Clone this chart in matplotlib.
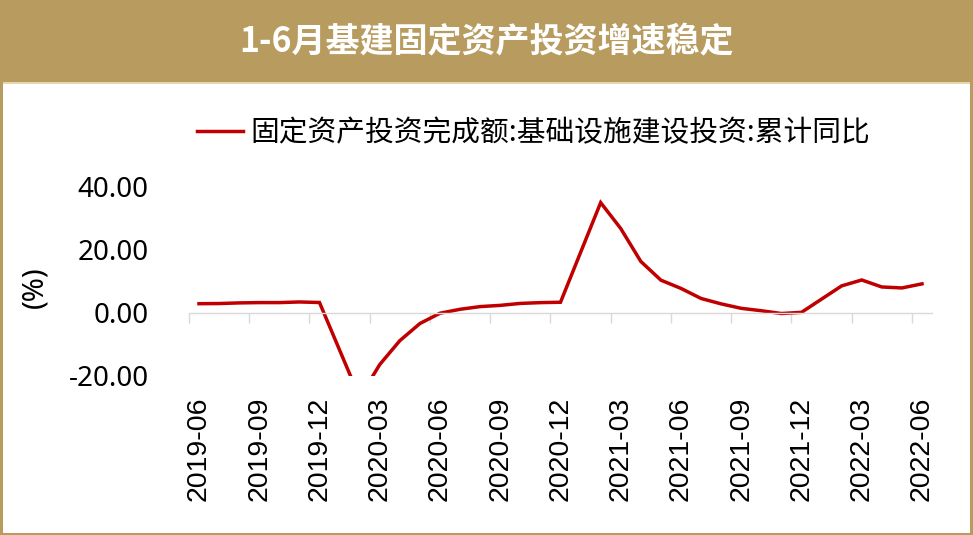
import matplotlib
matplotlib.use("Agg")
import matplotlib.pyplot as plt
from matplotlib.patches import Rectangle

plt.rcParams['font.family'] = ['Noto Sans CJK SC', 'DejaVu Sans']

# ---- data ----
months = ['2019-06', '2019-07', '2019-08', '2019-09', '2019-10', '2019-11', '2019-12',
          '2020-01', '2020-02', '2020-03', '2020-04', '2020-05', '2020-06', '2020-07',
          '2020-08', '2020-09', '2020-10', '2020-11', '2020-12',
          '2021-01', '2021-02', '2021-03', '2021-04', '2021-05', '2021-06', '2021-07',
          '2021-08', '2021-09', '2021-10', '2021-11', '2021-12',
          '2022-01', '2022-02', '2022-03', '2022-04', '2022-05', '2022-06']
values = [2.95, 3.0, 3.2, 3.3, 3.3, 3.5, 3.33,
          None, -26.86, -16.36, -8.78, -3.34, -0.07, 1.18, 2.03, 2.42, 3.04, 3.29, 3.41,
          None, 35.04, 26.81, 16.36, 10.42, 7.80, 4.61, 2.89, 1.48, 0.72, -0.17, 0.21,
          None, 8.61, 10.48, 8.26, 7.95, 9.25]
series_name = '固定资产投资完成额:基础设施建设投资:累计同比'
title = '1-6月基建固定资产投资增速稳定'
y_ticks = [-20, 0, 20, 40]
label_every = 3

TAN = '#B89B5E'
RED = '#C00000'

fig = plt.figure(figsize=(9.73, 5.35), dpi=100)
fig.patch.set_facecolor('white')

# banner
fig.patches.append(Rectangle((0, 0.8467), 1, 0.1533, transform=fig.transFigure,
                             facecolor=TAN, edgecolor='none', zorder=0))
fig.patches.append(Rectangle((0, 0.8430), 1, 0.0040, transform=fig.transFigure,
                             facecolor='#E6D7AE', edgecolor='none', zorder=0))
# border
fig.patches.append(Rectangle((0.001, 0.002), 0.997, 0.996, transform=fig.transFigure,
                             facecolor='none', edgecolor=TAN, linewidth=2.2, zorder=5))

fig.text(0.5, 0.921, title, color='white', fontsize=24.5, fontweight='bold',
         ha='center', va='center')

ax = fig.add_axes([0.1942, 0.2972, 0.9579 - 0.1942, 0.6505 - 0.2972])
ax.set_facecolor('none')

xs = [i for i, v in enumerate(values) if v is not None]
ys = [v for v in values if v is not None]
ax.plot(xs, ys, color=RED, linewidth=2.5, label=series_name, solid_joinstyle='miter')

ax.set_xlim(-0.5, len(months) - 0.5)
ax.set_ylim(min(y_ticks), max(y_ticks))

for s in ['top', 'right', 'left']:
    ax.spines[s].set_visible(False)
ax.spines['bottom'].set_position(('data', 0))
ax.spines['bottom'].set_color('#D9D9D9')
ax.spines['bottom'].set_linewidth(1.0)

boundaries = [i - 0.5 for i in range(0, len(months), label_every)]
ax.set_xticks(boundaries)
ax.tick_params(axis='x', direction='out', length=7.2, width=1.0, color='#D9D9D9',
               labelbottom=False)

ax.set_yticks(y_ticks)
ax.set_yticklabels([f'{t:.2f}' for t in y_ticks])
ax.tick_params(axis='y', length=0, pad=29, labelsize=20, labelcolor='black')
for lab in ax.get_yticklabels():
    lab.set_family(['Noto Sans', 'DejaVu Sans'])

sec = ax.secondary_xaxis(0.0)
sec.spines['bottom'].set_visible(False)
pos = list(range(0, len(months), label_every))
sec.set_xticks(pos)
sec.set_xticklabels([months[i] for i in pos], rotation=90,
                    fontfamily='Liberation Sans', fontsize=20.5)
sec.tick_params(axis='x', length=0, pad=15)

fig.text(0.036, (535 - 287) / 535, '(%)', rotation=90, ha='center', va='center',
         fontsize=21, family=['Noto Sans', 'DejaVu Sans'])

leg = ax.legend(loc='center', bbox_to_anchor=(0.548, 0.751),
                bbox_transform=fig.transFigure, frameon=False, fontsize=20.7,
                handlelength=1.6, handletextpad=0.25)

fig.savefig('out.png', dpi=100, facecolor='white')
